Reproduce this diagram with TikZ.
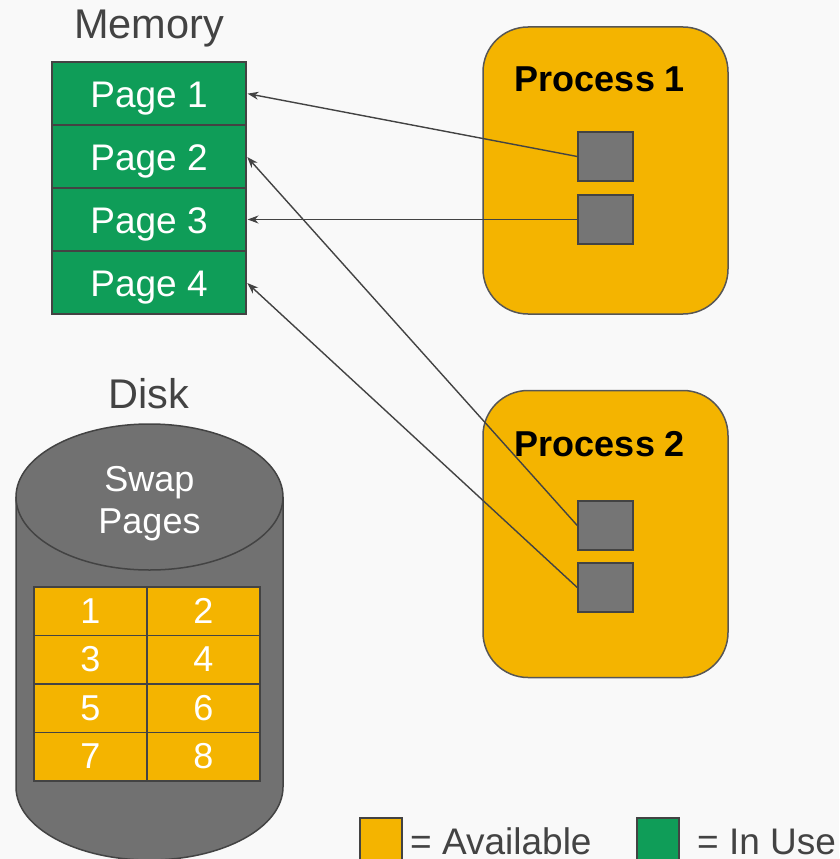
\documentclass[tikz,border=0pt]{standalone}
\usepackage{fontspec}
\setmainfont{Liberation Sans}
\usetikzlibrary{arrows.meta}
\definecolor{bgc}{HTML}{F9F9F9}
\definecolor{gre}{HTML}{0F9D58}
\definecolor{yel}{HTML}{F4B400}
\definecolor{dk}{HTML}{434343}
\definecolor{gry}{HTML}{717171}
\definecolor{sq}{HTML}{757575}
\tikzset{
  big/.style={font=\fontsize{36}{40}\selectfont},
  pagebox/.style={font=\fontsize{37}{40}\selectfont, draw=dk, line width=1.5pt, fill=gre, text=white, minimum width=194pt, minimum height=63pt, inner sep=0pt, text height=28pt, text depth=0pt},
  procbox/.style={draw=dk!90, line width=1.5pt, fill=yel, rounded corners=45pt, minimum width=245pt, minimum height=287pt, inner sep=0pt},
  smallsq/.style={draw=dk, line width=1.5pt, fill=sq, minimum width=55pt, minimum height=49pt, inner sep=0pt},
  swapcell/.style={big, draw=dk, line width=1.5pt, fill=yel, text=white, minimum width=113pt, minimum height=48.5pt, inner sep=0pt},
  proclabel/.style={font=\fontsize{36}{40}\selectfont\bfseries, text=black, anchor=base, inner sep=0pt},
  title/.style={font=\fontsize{41.5}{44}\selectfont, text=dk, anchor=base, inner sep=0pt},
  legsq/.style={draw=dk, line width=1.5pt, minimum width=42pt, minimum height=50pt, inner sep=0pt},
  legtext/.style={font=\fontsize{37}{40}\selectfont, text=dk, anchor=base west, inner sep=0pt, text depth=0pt},
  link/.style={draw=dk, line width=1.4pt, -{Stealth[length=11pt,width=8pt]}, shorten >=0.8pt}
}
\begin{document}
\begin{tikzpicture}[x=1pt,y=1pt]
\clip (0,0) rectangle (839,-859);
\fill[bgc] (0,0) rectangle (839,-859);
% Memory
\node[title] (memt) at (149,-38) {Memory};
\node[pagebox] (pg1) at (149,-93.5) {Page 1};
\node[pagebox] (pg2) at (149,-156.5) {Page 2};
\node[pagebox] (pg3) at (149,-219.5) {Page 3};
\node[pagebox] (pg4) at (149,-282.5) {Page 4};
% Processes
\node[procbox] (proc1) at (605.5,-170.5) {};
\node[proclabel] (p1t) at (600,-91) {Process 1};
\node[smallsq] (p1a) at (605.5,-156.5) {};
\node[smallsq] (p1b) at (605.5,-219.5) {};
\node[procbox] (proc2) at (605.5,-534) {};
\node[proclabel] (p2t) at (600,-456) {Process 2};
\node[smallsq] (p2a) at (605.5,-525.5) {};
\node[smallsq] (p2b) at (605.5,-587.5) {};
% Disk
\node[title] (diskt) at (149,-408) {Disk};
\filldraw[fill=gry, draw=dk, line width=1.5pt] (16,-497) -- (16,-787) arc[start angle=180, end angle=360, x radius=133.5pt, y radius=73pt] -- (283,-497);
\filldraw[fill=gry, draw=dk, line width=1.5pt] (149.5,-497) ellipse[x radius=133.5pt, y radius=73pt];
\node[big, text=white, align=center, anchor=base, inner sep=0pt] (swapt) at (149.5,-533) {Swap\\[2pt]Pages};
\node[swapcell] (s1) at (90.5,-611) {1};
\node[swapcell] (s2) at (203.5,-611) {2};
\node[swapcell] (s3) at (90.5,-659.5) {3};
\node[swapcell] (s4) at (203.5,-659.5) {4};
\node[swapcell] (s5) at (90.5,-708) {5};
\node[swapcell] (s6) at (203.5,-708) {6};
\node[swapcell] (s7) at (90.5,-756.5) {7};
\node[swapcell] (s8) at (203.5,-756.5) {8};
% Links
\draw[link] (p1a.west) -- (pg1.east);
\draw[link] (p1b.west) -- (pg3.east);
\draw[link] (p2a.west) -- (pg2.east);
\draw[link] (p2b.west) -- (pg4.east);
% Legend
\node[legsq, fill=yel] (legy) at (381,-843) {};
\node[legtext] (legyt) at (410,-854) {= Available};
\node[legsq, fill=gre] (legg) at (658,-843) {};
\node[legtext] (leggt) at (697,-854) {= In Use};
\end{tikzpicture}
\end{document}
